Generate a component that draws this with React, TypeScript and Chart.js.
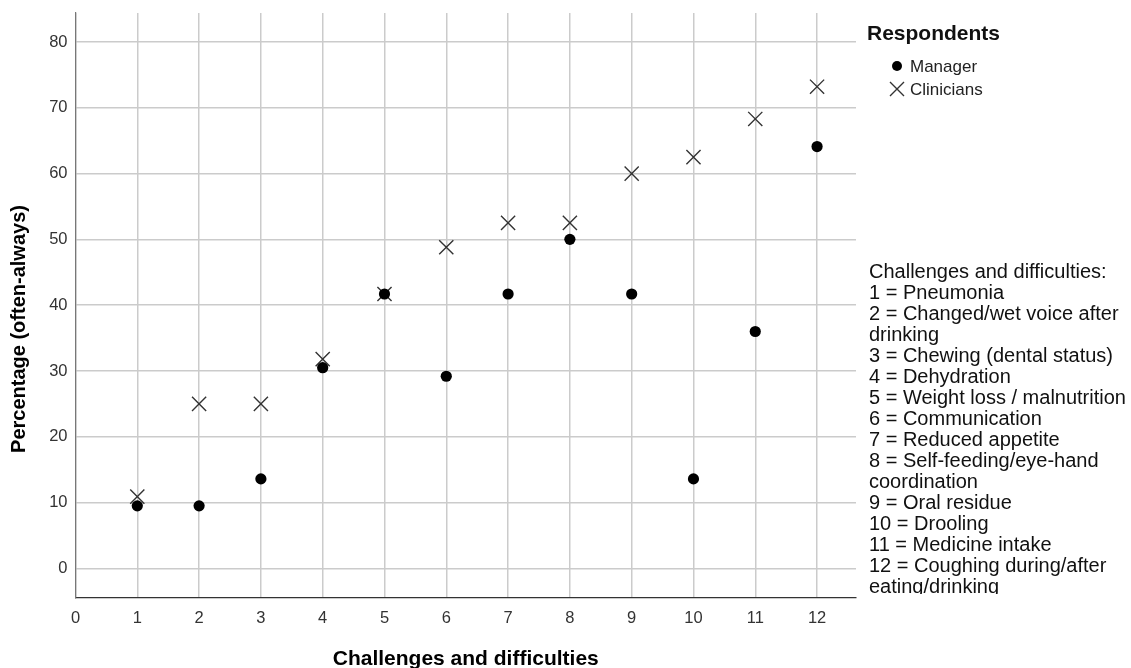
import React, { useEffect, useRef } from "react";
import { Chart, registerables } from "chart.js";

Chart.register(...registerables);

const categories = [1, 2, 3, 4, 5, 6, 7, 8, 9, 10, 11, 12];
const managerValues = [9.5, 9.5, 13.6, 30.5, 41.7, 29.2, 41.7, 50.0, 41.7, 13.6, 36.0, 64.1];
const clinicianValues = [10.9, 25.0, 25.0, 31.8, 41.7, 48.8, 52.5, 52.5, 60.0, 62.5, 68.3, 73.2];
const xTickValues = [0, 1, 2, 3, 4, 5, 6, 7, 8, 9, 10, 11, 12];
const yTickValues = [0, 10, 20, 30, 40, 50, 60, 70, 80];
const seriesNames = ["Manager", "Clinicians"];
const legendTitle = "Respondents";
const xTitle = "Challenges and difficulties";
const yTitle = "Percentage (often-always)";
const noteLines = [
  "Challenges and difficulties:",
  "1 = Pneumonia",
  "2 = Changed/wet voice after",
  "drinking",
  "3 = Chewing (dental status)",
  "4 = Dehydration",
  "5 = Weight loss / malnutrition",
  "6 = Communication",
  "7 = Reduced appetite",
  "8 = Self-feeding/eye-hand",
  "coordination",
  "9 = Oral residue",
  "10 = Drooling",
  "11 = Medicine intake",
  "12 = Coughing during/after",
  "eating/drinking",
];

const FONT = '"Liberation Sans", Arial, sans-serif';

const decorPlugin = {
  id: "decor",
  afterDraw(chart: any) {
    const ctx = chart.ctx as CanvasRenderingContext2D;
    const area = chart.chartArea;
    ctx.save();
    ctx.fillStyle = "#000";
    // axis titles
    ctx.font = `bold 21px ${FONT}`;
    ctx.textAlign = "center";
    ctx.textBaseline = "middle";
    ctx.fillText(xTitle, (area.left + area.right) / 2, 659);
    ctx.save();
    ctx.translate(19, 329);
    ctx.rotate(-Math.PI / 2);
    ctx.font = `bold 20px ${FONT}`;
    ctx.fillText(yTitle, 0, 0);
    ctx.restore();

    // legend
    ctx.textAlign = "left";
    ctx.font = `bold 21px ${FONT}`;
    ctx.fillStyle = "#111";
    ctx.fillText(legendTitle, 867, 34);
    ctx.font = `17px ${FONT}`;
    ctx.fillStyle = "#222";
    ctx.fillText(seriesNames[0], 910, 67);
    ctx.fillText(seriesNames[1], 910, 90);
    ctx.beginPath();
    ctx.arc(897, 66, 5, 0, Math.PI * 2);
    ctx.fillStyle = "#000";
    ctx.fill();
    ctx.beginPath();
    ctx.strokeStyle = "#333";
    ctx.lineWidth = 1.4;
    const s = 7;
    ctx.moveTo(897 - s, 89 - s);
    ctx.lineTo(897 + s, 89 + s);
    ctx.moveTo(897 + s, 89 - s);
    ctx.lineTo(897 - s, 89 + s);
    ctx.stroke();

    // notes
    ctx.save();
    ctx.beginPath();
    ctx.rect(860, 250, 271, 344);
    ctx.clip();
    ctx.font = `20px ${FONT}`;
    ctx.fillStyle = "#111";
    noteLines.forEach((line, i) => {
      ctx.fillText(line, 869, 272 + i * 21);
    });
    ctx.restore();
    ctx.restore();
  },
};

export default function App() {
  const ref = useRef<HTMLCanvasElement | null>(null);
  useEffect(() => {
    document.body.style.margin = "0";
    const canvas = ref.current!;
    const chart = new Chart(canvas, {
      type: "scatter",
      data: {
        datasets: [
          {
            label: seriesNames[0],
            data: categories.map((c, i) => ({ x: c, y: managerValues[i] })),
            pointStyle: "circle",
            pointRadius: 5.6,
            backgroundColor: "#000",
            borderColor: "#000",
            borderWidth: 0,
          },
          {
            label: seriesNames[1],
            data: categories.map((c, i) => ({ x: c, y: clinicianValues[i] })),
            pointStyle: "crossRot",
            pointRadius: 10,
            backgroundColor: "#333",
            borderColor: "#333",
            borderWidth: 1.4,
          },
        ],
      },
      options: {
        responsive: false,
        animation: false,
        events: [],
        layout: { padding: { left: 0, right: 275, top: 13, bottom: 0 } },
        plugins: {
          legend: { display: false },
          tooltip: { enabled: false },
          title: { display: false },
        },
        scales: {
          x: {
            type: "linear",
            min: 0,
            max: 12.63,
            afterBuildTicks: (s: any) => {
              s.ticks = xTickValues.map((v) => ({ value: v }));
            },
            afterFit: (s: any) => {
              s.height = 70;
              s.paddingLeft = 0;
              s.paddingRight = 0;
            },
            grid: { color: "#cbcbcb", lineWidth: 1.5, drawTicks: false },
            border: { color: "#333", width: 1.2 },
            ticks: {
              padding: 11,
              color: "#333",
              font: { size: 16.5, family: FONT },
              callback: (v: any) => String(v),
            },
          },
          y: {
            type: "linear",
            min: -4.5,
            max: 84.4,
            afterBuildTicks: (s: any) => {
              s.ticks = yTickValues.map((v) => ({ value: v }));
            },
            afterFit: (s: any) => {
              s.width = 75.5;
              s.paddingTop = 0;
              s.paddingBottom = 0;
            },
            grid: { color: "#cbcbcb", lineWidth: 1.5, drawTicks: false },
            border: { color: "#777", width: 1.2 },
            ticks: {
              padding: 8,
              color: "#333",
              font: { size: 16.5, family: FONT },
              callback: (v: any) => String(v),
            },
          },
        },
      },
      plugins: [decorPlugin],
    });
    return () => chart.destroy();
  }, []);
  return (
    <div style={{ position: "absolute", left: 0, top: 0, width: 1131, height: 668, background: "#fff" }}>
      <canvas ref={ref} width={1131} height={668} style={{ display: "block", width: 1131, height: 668 }} />
    </div>
  );
}
